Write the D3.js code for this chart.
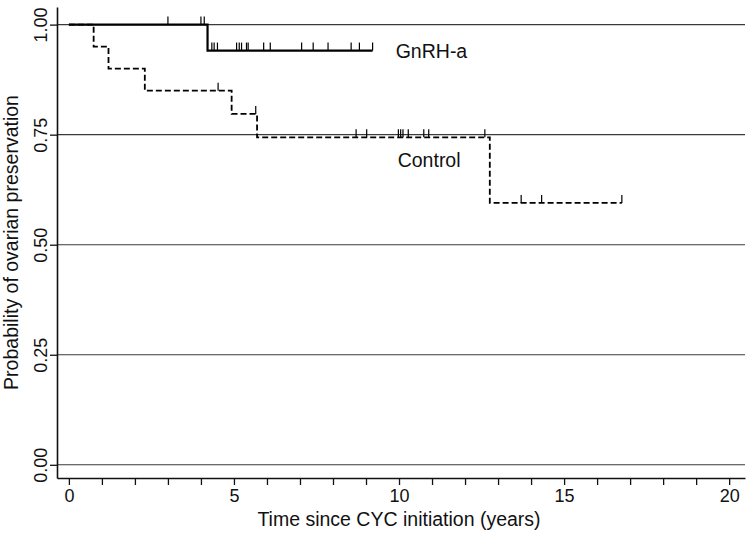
<!DOCTYPE html>
<html>
<head>
<meta charset="utf-8">
<script src="https://cdn.jsdelivr.net/npm/d3@7"></script>
<style>
  html, body { margin: 0; padding: 0; background: #fff; }
  svg { display: block; font-family: "Liberation Sans", Arial, Helvetica, sans-serif; }
</style>
</head>
<body>
<svg id="chart" width="750" height="538"></svg>
<script>
// ---- data ----
const xTickValues = [0,1,2,3,4,5,6,7,8,9,10,11,12,13,14,15,16,17,18,19,20];
const xTickLabels = [0, 5, 10, 15, 20];
const yTickValues = [0, 0.25, 0.5, 0.75, 1];

const gnrhTime = [0, 4.2, 9.2];
const gnrhSurv = [1.0, 0.941, 0.941];
const gnrhCensor = [3.0, 4.0, 4.1, 4.33, 4.4, 4.5, 5.08, 5.16, 5.23, 5.38, 5.43, 5.9, 6.1, 7.05, 7.4, 7.85, 8.55, 8.8, 9.2];

const controlTime = [0, 0.75, 1.2, 2.3, 4.93, 5.7, 12.75, 16.75];
const controlSurv = [1.0, 0.95, 0.90, 0.85, 0.797, 0.744, 0.595, 0.595];
const controlCensor = [4.52, 5.66, 8.7, 9.02, 9.98, 10.05, 10.12, 10.28, 10.75, 10.9, 12.6, 13.7, 14.32, 16.75];

const seriesLabels = ["GnRH-a", "Control"];

// ---- scales ----
const svg = d3.select("#chart");
const x = d3.scaleLinear().domain([-0.36, 20.48]).range([57, 745]);
const y = d3.scaleLinear().domain([-0.03, 1.04]).range([478, 7]);

function survAt(times, surv, t) {
  const i = d3.bisectRight(times, t) - 1;
  return surv[Math.max(0, i)];
}

// grid lines
svg.append("g").selectAll("line").data(yTickValues).join("line")
  .attr("x1", x.range()[0]).attr("x2", x.range()[1])
  .attr("y1", d => y(d)).attr("y2", d => y(d))
  .attr("stroke", "#3a3a3a").attr("stroke-width", 1.1);

// axes
const xAxis = d3.axisBottom(x).tickValues(xTickValues)
  .tickFormat(d => xTickLabels.includes(d) ? d : "")
  .tickSize(7).tickSizeOuter(0).tickPadding(4);
const gx = svg.append("g").attr("transform", `translate(0,${y.range()[0]})`).call(xAxis);
gx.select(".domain").attr("stroke", "#111").attr("stroke-width", 1.6);
gx.selectAll(".tick line").attr("stroke", "#111").attr("stroke-width", 1.3);
gx.selectAll(".tick text").attr("font-size", 18).attr("fill", "#111");

const yAxis = d3.axisLeft(y).tickValues(yTickValues).tickFormat(d3.format(".2f"))
  .tickSize(7).tickSizeOuter(0).tickPadding(3);
const gy = svg.append("g").attr("transform", `translate(${x.range()[0]},0)`).call(yAxis);
gy.select(".domain").attr("stroke", "#111").attr("stroke-width", 1.6);
gy.selectAll(".tick line").attr("stroke", "#111").attr("stroke-width", 1.3);
gy.selectAll(".tick text").attr("font-size", 18).attr("fill", "#111")
  .attr("text-anchor", "middle")
  .attr("transform", "rotate(-90)")
  .attr("x", 0).attr("y", -10).attr("dy", "0");

// axis titles
svg.append("text").attr("x", x(10)).attr("y", 526)
  .attr("text-anchor", "middle").attr("font-size", 19.5).attr("fill", "#111")
  .text("Time since CYC initiation (years)");
svg.append("text").attr("transform", `translate(17.5,${y(0.505)}) rotate(-90)`)
  .attr("text-anchor", "middle").attr("font-size", 19.5).attr("fill", "#111")
  .text("Probability of ovarian preservation");

// survival curves
const line = d3.line().x(d => x(d[0])).y(d => y(d[1])).curve(d3.curveStepAfter);
svg.append("path").datum(d3.zip(gnrhTime, gnrhSurv)).attr("d", line)
  .attr("fill", "none").attr("stroke", "#000").attr("stroke-width", 2.2);
svg.append("path").datum(d3.zip(controlTime, controlSurv)).attr("d", line)
  .attr("fill", "none").attr("stroke", "#000").attr("stroke-width", 1.8)
  .attr("stroke-dasharray", "6,3");

// censor marks
svg.append("g").selectAll("line").data(gnrhCensor).join("line")
  .attr("x1", d => x(d)).attr("x2", d => x(d))
  .attr("y1", d => y(survAt(gnrhTime, gnrhSurv, d)))
  .attr("y2", d => y(survAt(gnrhTime, gnrhSurv, d)) - 8)
  .attr("stroke", "#000").attr("stroke-width", 1.2);
svg.append("g").selectAll("line").data(controlCensor).join("line")
  .attr("x1", d => x(d)).attr("x2", d => x(d))
  .attr("y1", d => y(survAt(controlTime, controlSurv, d)))
  .attr("y2", d => y(survAt(controlTime, controlSurv, d)) - 8)
  .attr("stroke", "#000").attr("stroke-width", 1.2);

// series labels
svg.append("text").attr("x", x(9.9)).attr("y", y(0.941) + 7)
  .attr("font-size", 19.5).attr("fill", "#111").text(seriesLabels[0]);
svg.append("text").attr("x", x(9.96)).attr("y", y(0.676))
  .attr("font-size", 19.5).attr("fill", "#111").text(seriesLabels[1]);
</script>
</body>
</html>
